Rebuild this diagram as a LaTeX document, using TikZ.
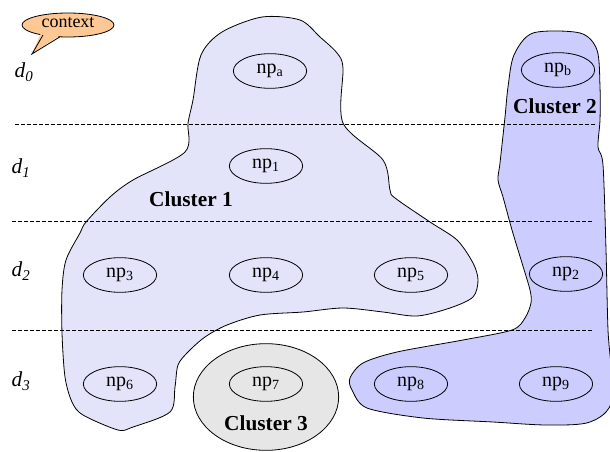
\documentclass[tikz,border=0pt]{standalone}
\usepackage{fontspec}
\setmainfont{Liberation Serif}
\usetikzlibrary{shapes.geometric}
\definecolor{cA}{HTML}{E3E3FA}
\definecolor{cB}{HTML}{CCCCFF}
\definecolor{cC}{HTML}{E6E6E6}
\definecolor{ctx}{HTML}{FDC894}
\begin{document}
\begin{tikzpicture}[x=0.75pt,y=-0.75pt,
 np/.style={ellipse,draw,line width=0.6pt,minimum width=55pt,minimum height=26pt,inner sep=0pt,font=\fontsize{15}{15}\selectfont},
 clab/.style={font=\fontsize{16}{16}\selectfont\bfseries},
 dlab/.style={font=\fontsize{16}{16}\selectfont},
 sep/.style={dash pattern=on 3pt off 1.5pt,line width=0.6pt},
 blob/.style={draw,line width=0.6pt}]
\useasboundingbox (0,0) rectangle (610,452);

% Cluster 1
\draw[blob,fill=cA] plot[smooth cycle,tension=0.5] coordinates {
 (262,17) (300,20) (320,37) (337,53) (343,68) (343,123) (383,160) (390,190)
 (395,198) (430,222) (457,240) (473,263) (478,280) (473,297) (450,308) (417,316)
 (383,312) (343,308) (303,312) (260,315) (227,325) (205,337) (188,352) (178,365)
 (175,387) (170,412) (133,427) (118,430) (83,415) (72,402) (65,377) (62,333)
 (62,290) (66,260) (80,233) (86,222) (110,197) (133,180) (185,152) (188,123)
 (193,100) (201,55) (222,32)};

% Cluster 2
\draw[blob,fill=cB] plot[smooth cycle,tension=0.5] coordinates {
 (533,33) (580,33) (597,50) (600,87) (600,120) (598,147) (603,165) (606,250)
 (608,330) (612,400) (590,422) (547,425) (493,422) (423,418) (367,408) (352,390)
 (350,378) (363,363) (397,352) (463,340) (512,330) (525,318) (531,303) (530,290)
 (522,263) (512,230) (503,197) (498,180) (500,163) (505,117) (508,87) (514,55)};

% Cluster 3
\node[ellipse,draw,line width=0.6pt,fill=cC,minimum width=109pt,minimum height=80pt,inner sep=0pt] (c3) at (266,397) {};

% separators
\coordinate (s0a) at (15,124); \coordinate (s0b) at (595,124);
\coordinate (s1a) at (12,221); \coordinate (s1b) at (592,221);
\coordinate (s2a) at (12,330); \coordinate (s2b) at (592,330);
\draw[sep] (s0a) -- (s0b);
\draw[sep] (s1a) -- (s1b);
\draw[sep] (s2a) -- (s2b);

% level labels
\node[dlab] (d0) at (24,72) {\textit{d}\textsubscript{\textit{0}}};
\node[dlab] (d1) at (21,168) {\textit{d}\textsubscript{\textit{1}}};
\node[dlab] (d2) at (21,271) {\textit{d}\textsubscript{\textit{2}}};
\node[dlab] (d3) at (21,381) {\textit{d}\textsubscript{\textit{3}}};

% np nodes
\node[np] (npa) at (270,71) {np\textsubscript{a}};
\node[np] (npb) at (558,70) {np\textsubscript{b}};
\node[np] (np1) at (266,166) {np\textsubscript{1}};
\node[np] (np3) at (120,275) {np\textsubscript{3}};
\node[np] (np4) at (266,275) {np\textsubscript{4}};
\node[np] (np5) at (411,275) {np\textsubscript{5}};
\node[np] (np2) at (566,274) {np\textsubscript{2}};
\node[np] (np6) at (120,384) {np\textsubscript{6}};
\node[np] (np7) at (266,384) {np\textsubscript{7}};
\node[np] (np8) at (411,384) {np\textsubscript{8}};
\node[np] (np9) at (556,384) {np\textsubscript{9}};

% cluster labels
\node[clab] (l1) at (191,199) {Cluster 1};
\node[clab] (l2) at (555,106) {Cluster 2};
\node[clab] (l3) at (266,423) {Cluster 3};

% context bubble
\node[ellipse,draw,line width=0.6pt,fill=ctx,minimum width=69pt,minimum height=18pt,inner sep=0pt] (ctxn) at (68,25) {};
\coordinate (tip) at (32,54);
\coordinate (tb1) at (43,35);
\coordinate (tb2) at (60,36.8);
\fill[ctx] (41,33) -- (tip) -- (62,34) -- cycle;
\draw[line width=0.6pt] (tb1) -- (tip) -- (tb2);
\node[font=\fontsize{13.5}{13.5}\selectfont] (ctxt) at (68,23) {context};
\end{tikzpicture}
\end{document}
